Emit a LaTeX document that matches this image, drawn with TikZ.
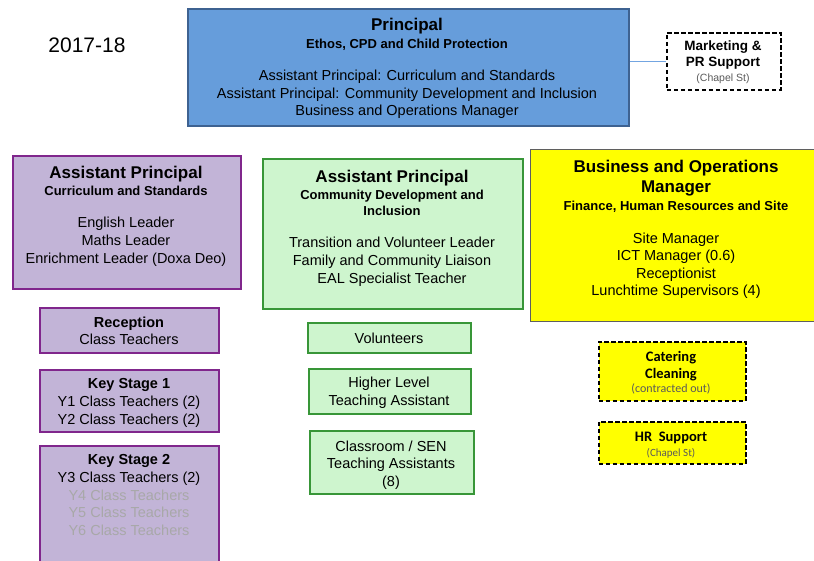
\documentclass[tikz,border=0pt]{standalone}
\usepackage{fontspec}
\setmainfont{Liberation Sans}
\newfontfamily\calib{Carlito}
\definecolor{pfill}{RGB}{102,157,219}
\definecolor{pline}{RGB}{62,98,145}
\definecolor{link}{RGB}{115,165,225}
\definecolor{lfill}{RGB}{194,180,215}
\definecolor{lline}{RGB}{128,38,140}
\definecolor{gfill}{RGB}{206,245,206}
\definecolor{gline}{RGB}{56,150,56}
\definecolor{yfill}{RGB}{255,255,0}
\definecolor{yline}{RGB}{95,95,95}
\definecolor{faint}{RGB}{168,168,168}
\definecolor{note}{RGB}{90,90,90}
\newcommand{\ttl}[1]{{\bfseries\fontsize{17}{19}\selectfont #1}}
\newcommand{\sub}[1]{{\bfseries\fontsize{13}{15}\selectfont #1}}
\begin{document}
\begin{tikzpicture}[x=1pt,y=-1pt,
  box/.style={rectangle, inner sep=0pt, anchor=north west},
  blue box/.style={box, draw=pline, fill=pfill, line width=2pt},
  lilac box/.style={box, draw=lline, fill=lfill, line width=2.4pt},
  green box/.style={box, draw=gline, fill=gfill, line width=2pt},
  yellow box/.style={box, draw=yline, fill=yfill, line width=1.3pt},
  ext box/.style={box, draw=black, line width=1.8pt, dash pattern=on 4.5pt off 2.5pt},
  txt/.style={align=center, anchor=north, inner sep=0pt,
    font=\fontsize{14.5}{18}\selectfont},
  ctxt/.style={align=center, inner sep=0pt,
    font=\fontsize{14.5}{18}\selectfont},
  calt/.style={align=center, anchor=north, inner sep=0pt,
    font=\calib\bfseries\fontsize{14.5}{17}\selectfont},
]
\useasboundingbox (0,0) rectangle (814,560);

% year label
\node[inner sep=0pt, font=\fontsize{21}{24}\selectfont] (year) at (87,45) {2017-18};

% head of school
\node[blue box, minimum width=441pt, minimum height=117pt] (prin) at (187,8) {};
\node[txt] (prin-t) at (407,18) {\ttl{Principal}\\[0pt]
  \sub{Ethos, CPD and Child Protection}\\[14pt]
  Assistant Principal: Curriculum and Standards\\[-0.5pt]
  Assistant Principal: Community Development and Inclusion\\[-0.5pt]
  Business and Operations Manager};

% external marketing support
\node[ext box, fill=white, minimum width=114pt, minimum height=57pt] (mkt) at (666,32) {};
\node[align=center, anchor=north, inner sep=0pt, font=\bfseries\fontsize{13.5}{15.5}\selectfont] (mkt-t) at (723,41)
  {Marketing \&\\PR Support\\{\mdseries\color{note}\fontsize{10.5}{12}\selectfont(Chapel St)}};
\draw[link, line width=1.8pt] (prin.east |- mkt.west) -- (mkt.west);

% assistant principal: curriculum
\node[lilac box, minimum width=228pt, minimum height=133pt] (apc) at (12,155) {};
\node[txt] (apc-t) at (126,166) {\ttl{Assistant Principal}\\[-1pt]
  \sub{Curriculum and Standards}\\[14pt]
  English Leader\\Maths Leader\\Enrichment Leader (Doxa Deo)};

% assistant principal: community
\node[green box, minimum width=260pt, minimum height=150pt] (apd) at (262,158) {};
\node[txt] (apd-t) at (392,170) {\ttl{Assistant Principal}\\[-1pt]
  \sub{Community Development and}\\[-2pt]
  \sub{Inclusion}\\[14pt]
  Transition and Volunteer Leader\\Family and Community Liaison\\EAL Specialist Teacher};

% business and operations manager
\node[yellow box, minimum width=284pt, minimum height=172pt] (bom) at (530,149) {};
\node[txt] (bom-t) at (676,160) {\ttl{Business and Operations}\\[2pt]
  \ttl{Manager}\\[0pt]
  \sub{Finance, Human Resources and Site}\\[15pt]
  Site Manager\\[-1pt]ICT Manager (0.6)\\[-0.5pt]Receptionist\\[-1pt]Lunchtime Supervisors (4)};

% class teams
\node[lilac box, minimum width=179pt, minimum height=45pt] (rec) at (39,307) {};
\node[ctxt] (rec-t) at (129,331) {\textbf{Reception}\\[-1pt]Class Teachers};
\node[lilac box, minimum width=179pt, minimum height=62pt] (ks1) at (39,369) {};
\node[ctxt] (ks1-t) at (129,402.5) {\textbf{Key Stage 1}\\Y1 Class Teachers (2)\\Y2 Class Teachers (2)};
\node[lilac box, minimum width=179pt, minimum height=125pt] (ks2) at (39,445) {};
\node[txt] (ks2-t) at (129,454) {\textbf{Key Stage 2}\\Y3 Class Teachers (2)\\
  {\color{faint}Y4 Class Teachers}\\[-0.5pt]{\color{faint}Y5 Class Teachers}\\[-0.5pt]{\color{faint}Y6 Class Teachers}};

% support staff
\node[green box, minimum width=163pt, minimum height=30pt] (vol) at (307,322) {};
\node[ctxt] (vol-t) at (389,338) {Volunteers};
\node[green box, minimum width=162pt, minimum height=45pt] (hlta) at (308,368) {};
\node[ctxt] (hlta-t) at (389,393) {Higher Level\\Teaching Assistant};
\node[green box, minimum width=164pt, minimum height=63pt] (ta) at (309,430) {};
\node[ctxt] (ta-t) at (391,465) {Classroom / SEN\\[-0.5pt]Teaching Assistants\\[-0.5pt](8)};

% contracted services
\node[ext box, fill=yfill, minimum width=147pt, minimum height=59pt] (cat) at (598,341) {};
\node[calt] (cat-t) at (671,351) {Catering\\Cleaning\\[-3pt]{\mdseries\color{note}\fontsize{12}{13}\selectfont(contracted out)}};
\node[ext box, fill=yfill, minimum width=147pt, minimum height=42pt] (hr) at (598,421) {};
\node[calt] (hr-t) at (671,432) {HR~~Support\\[-2pt]{\mdseries\color{note}\fontsize{11}{12}\selectfont(Chapel St)}};
\end{tikzpicture}
\end{document}
